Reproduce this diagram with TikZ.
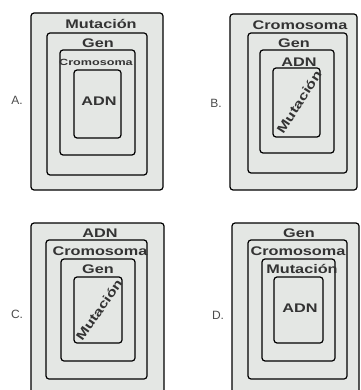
\documentclass[tikz,border=0pt]{standalone}
\usepackage{fontspec}
\setmainfont{Liberation Sans}
\newfontfamily\ancha[FakeStretch=1.3]{Liberation Sans}
\newfontfamily\anchita[FakeStretch=1.4]{Liberation Sans}
\definecolor{cajagris}{RGB}{228,231,228}

\begin{document}
\begin{tikzpicture}[x=1pt, y=-1pt,
    caja/.style={draw=black, line width=1.2pt, fill=cajagris, rounded corners=3pt},
    rotulo/.style={font=\ancha\fontsize{12.5}{14}\selectfont\bfseries, text=black!80, inner sep=0pt},
    chico/.style={font=\anchita\fontsize{9}{10}\selectfont\bfseries, text=black!80, inner sep=0pt},
    letra/.style={font=\fontsize{12}{14}\selectfont, text=black!70, inner sep=0pt}
]
    \clip (0,0) rectangle (360,390);

    % A
    \draw[caja] (31,13) rectangle (163,190);
    \draw[caja] (47,33) rectangle (147,175);
    \draw[caja] (60,50) rectangle (135,155);
    \draw[caja] (74,70) rectangle (121,138);
    \node (la) [letra] at (17,100) {A.};
    \node (aMut) [rotulo] at (101,24) {Mutación};
    \node (aGen) [rotulo] at (98,43) {Gen};
    \node (aCro) [chico] at (96,62) {Cromosoma};
    \node (aAdn) [rotulo] at (99,101) {ADN};

    % B
    \draw[caja] (230,14) rectangle (357,190);
    \draw[caja] (248,33) rectangle (347,173);
    \draw[caja] (260,50) rectangle (334,153);
    \draw[caja] (273,68) rectangle (320,137);
    \node (lb) [letra] at (216,103) {B.};
    \node (bCro) [rotulo] at (300,25) {Cromosoma};
    \node (bGen) [rotulo] at (294,43) {Gen};
    \node (bAdn) [rotulo] at (299,62) {ADN};
    \node (bMut) [rotulo, rotate=57] at (299,102) {Mutación};

    % C
    \draw[caja] (31,223) rectangle (164,400);
    \draw[caja] (46,240) rectangle (147,379);
    \draw[caja] (61,259) rectangle (135,361);
    \draw[caja] (74,277) rectangle (122,343);
    \node (lc) [letra] at (17,314) {C.};
    \node (cAdn) [rotulo] at (100,233) {ADN};
    \node (cCro) [rotulo] at (100,251) {Cromosoma};
    \node (cGen) [rotulo] at (98,269) {Gen};
    \node (cMut) [rotulo, rotate=55] at (99,310) {Mutación};

    % D
    \draw[caja] (232,223) rectangle (359,400);
    \draw[caja] (248,240) rectangle (347,379);
    \draw[caja] (262,259) rectangle (335,361);
    \draw[caja] (274,277) rectangle (323,343);
    \node (ld) [letra] at (218,315) {D.};
    \node (dGen) [rotulo] at (299,233) {Gen};
    \node (dCro) [rotulo] at (298,251) {Cromosoma};
    \node (dMut) [rotulo] at (302,269) {Mutación};
    \node (dAdn) [rotulo] at (300,308) {ADN};
\end{tikzpicture}
\end{document}
